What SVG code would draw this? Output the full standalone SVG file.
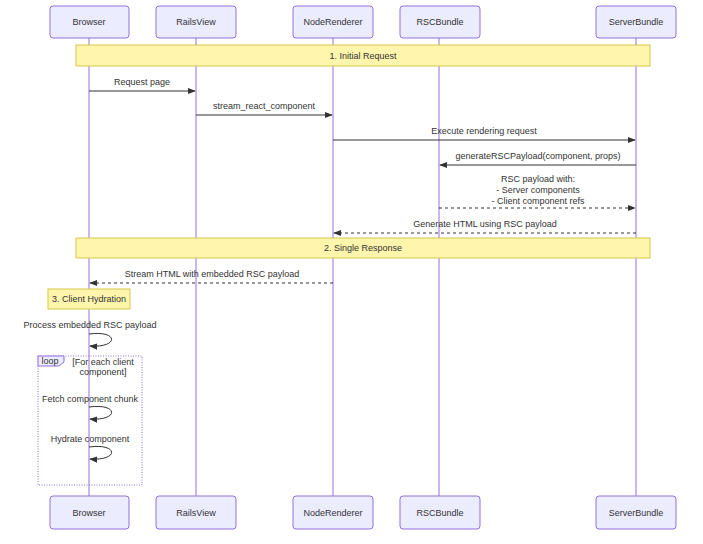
<svg xmlns="http://www.w3.org/2000/svg" width="703" height="544" viewBox="0 0 703 544">
<defs>
<style>
text{font-family:"Liberation Sans",Arial,sans-serif;font-size:9px;fill:#333;text-anchor:middle}
.actor{fill:#ececff;stroke:#9370db;stroke-width:1}
.life{stroke:#9370db;stroke-width:1}
.note{fill:#fff5ad;stroke:#d6c94a;stroke-width:1}
.msg{stroke:#333;stroke-width:1;fill:none}
.dot{stroke-dasharray:3,3}
</style>
<marker id="ah" viewBox="0 0 10 10" refX="9" refY="5" markerWidth="8" markerHeight="8" orient="auto"><path d="M0,1 L10,5 L0,9 z" fill="#333"/></marker>
</defs>
<rect width="703" height="544" fill="#fff"/>
<g id="lifelines">
<line class="life" x1="89" y1="38" x2="89" y2="496"/>
<line class="life" x1="196" y1="38" x2="196" y2="496"/>
<line class="life" x1="333" y1="38" x2="333" y2="496"/>
<line class="life" x1="439" y1="38" x2="439" y2="496"/>
<line class="life" x1="636" y1="38" x2="636" y2="496"/>
</g>
<g id="actor-Browser"><rect class="actor" x="50" y="6" width="79" height="32" rx="3"/><text x="89" y="25">Browser</text><rect class="actor" x="50" y="496" width="79" height="33" rx="3"/><text x="89" y="516">Browser</text></g>
<g id="actor-RailsView"><rect class="actor" x="156" y="6" width="80" height="32" rx="3"/><text x="196" y="25">RailsView</text><rect class="actor" x="156" y="496" width="80" height="33" rx="3"/><text x="196" y="516">RailsView</text></g>
<g id="actor-NodeRenderer"><rect class="actor" x="293" y="6" width="80" height="32" rx="3"/><text x="333" y="25">NodeRenderer</text><rect class="actor" x="293" y="496" width="80" height="33" rx="3"/><text x="333" y="516">NodeRenderer</text></g>
<g id="actor-RSCBundle"><rect class="actor" x="400" y="6" width="80" height="32" rx="3"/><text x="440" y="25">RSCBundle</text><rect class="actor" x="400" y="496" width="80" height="33" rx="3"/><text x="440" y="516">RSCBundle</text></g>
<g id="actor-ServerBundle"><rect class="actor" x="596" y="6" width="80" height="32" rx="3"/><text x="636" y="25">ServerBundle</text><rect class="actor" x="596" y="496" width="80" height="33" rx="3"/><text x="636" y="516">ServerBundle</text></g>
<g id="note1"><rect class="note" x="76" y="45" width="574" height="21"/><text x="363" y="59">1. Initial Request</text></g>
<g id="note2"><rect class="note" x="76" y="238" width="574" height="20"/><text x="363" y="251">2. Single Response</text></g>
<g id="note3"><rect class="note" x="48" y="289" width="82" height="20"/><text x="89" y="302">3. Client Hydration</text></g>
<g id="loop"><rect x="38" y="356" width="104" height="129" fill="none" stroke="#9370db" stroke-width="1" stroke-dasharray="1,1.5"/><path d="M38,356 H64 V362 L59,366 H38 z" fill="#ececff" stroke="#9370db" stroke-width="1"/><text x="50" y="364">loop</text><text x="103" y="365">[For each client</text><text x="103" y="375">component]</text></g>
<g id="connectors">
<text x="142" y="85">Request page</text><line class="msg" x1="89" y1="91" x2="195" y2="91" marker-end="url(#ah)"/>
<text x="264" y="109">stream_react_component</text><line class="msg" x1="196" y1="115" x2="332" y2="115" marker-end="url(#ah)"/>
<text x="484" y="134">Execute rendering request</text><line class="msg" x1="333" y1="140" x2="635" y2="140" marker-end="url(#ah)"/>
<text x="538" y="159">generateRSCPayload(component, props)</text><line class="msg" x1="636" y1="165" x2="440" y2="165" marker-end="url(#ah)"/>
<text x="538" y="182">RSC payload with:</text><text x="538" y="193">- Server components</text><text x="538" y="204">- Client component refs</text>
<line class="msg dot" x1="439" y1="208" x2="635" y2="208" marker-end="url(#ah)"/>
<text x="485" y="227">Generate HTML using RSC payload</text><line class="msg dot" x1="636" y1="233" x2="334" y2="233" marker-end="url(#ah)"/>
<text x="212" y="277">Stream HTML with embedded RSC payload</text><line class="msg dot" x1="333" y1="283" x2="90" y2="283" marker-end="url(#ah)"/>
<text x="90" y="328">Process embedded RSC payload</text><path class="msg" d="M89,334 C119,330 119,348 90,346" marker-end="url(#ah)"/>
<text x="90" y="402">Fetch component chunk</text><path class="msg" d="M89,407 C119,403 119,421 90,419" marker-end="url(#ah)"/>
<text x="90" y="442">Hydrate component</text><path class="msg" d="M89,447 C119,443 119,461 90,459" marker-end="url(#ah)"/>
</g>
</svg>
